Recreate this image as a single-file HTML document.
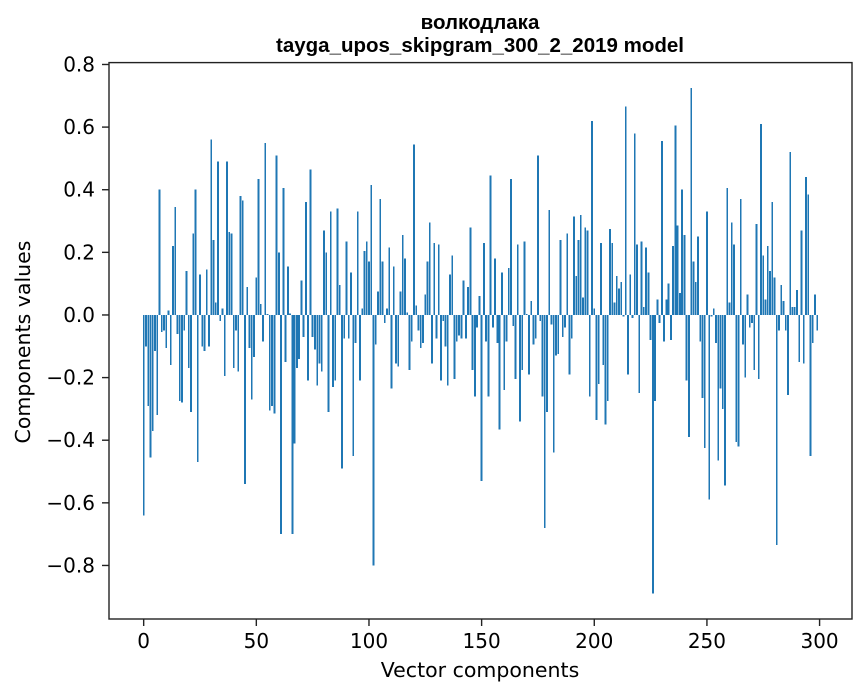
<!DOCTYPE html>
<html><head><meta charset="utf-8"><style>
html,body{margin:0;padding:0;background:#fff;}
svg{display:block;font-family:"DejaVu Sans","Liberation Sans",sans-serif;}
</style></head><body>
<svg id="chart" width="867" height="696" viewBox="0 0 867 696" xmlns="http://www.w3.org/2000/svg">
<rect width="867" height="696" fill="#fff"/>
<text x="480" y="29" text-anchor="middle" font-size="20.5" font-weight="bold" font-family="Liberation Sans, sans-serif">волкодлака</text>
<text x="480" y="52" text-anchor="middle" font-size="20.5" font-weight="bold" font-family="Liberation Sans, sans-serif">tayga_upos_skipgram_300_2_2019 model</text>
<g id="bars" shape-rendering="crispEdges"></g>
<g id="axes"></g>
<text x="480" y="677" text-anchor="middle" font-size="20.5">Vector components</text>
<text transform="translate(30,342) rotate(-90)" text-anchor="middle" font-size="20.5">Components values</text>
</svg>
<script>
const values = [
-0.64,-0.10,-0.29,-0.455,-0.37,-0.115,-0.32,0.40,-0.055,-0.05,
-0.105,0.015,-0.16,0.22,0.345,-0.06,-0.275,-0.28,-0.05,0.14,
-0.17,-0.31,0.26,0.40,-0.47,0.13,-0.10,-0.115,0.145,-0.10,
0.56,0.24,0.04,0.49,-0.02,0.02,-0.195,0.49,0.265,0.26,
-0.17,-0.05,-0.18,0.38,0.365,-0.54,0.09,-0.105,-0.27,-0.135,
0.12,0.435,0.035,-0.085,0.55,0.003,-0.305,-0.29,-0.315,0.51,
0.20,-0.70,0.405,-0.15,0.155,0.005,-0.70,-0.41,-0.17,-0.14,
0.11,-0.07,0.36,-0.21,0.465,-0.07,-0.11,-0.225,-0.155,-0.18,
0.27,0.20,-0.31,0.33,-0.23,-0.21,0.34,0.095,-0.49,-0.075,
0.235,-0.075,0.135,-0.45,-0.09,0.33,-0.21,0.02,0.205,0.235,
0.17,0.415,-0.80,-0.095,0.075,0.37,0.17,-0.025,0.02,0.215,
-0.235,0.155,-0.155,-0.165,0.075,0.255,0.18,0.008,-0.175,-0.085,
0.545,0.03,-0.05,-0.105,-0.09,0.065,0.17,0.295,-0.155,0.23,
-0.075,0.225,-0.21,-0.02,-0.10,-0.225,0.13,0.19,-0.205,-0.085,
-0.065,-0.075,0.11,-0.075,0.09,0.28,-0.175,-0.26,-0.04,0.06,
-0.53,0.23,-0.085,-0.26,0.445,-0.04,0.18,-0.09,-0.365,0.135,
-0.24,-0.085,0.15,0.435,-0.035,-0.205,0.225,-0.34,-0.175,0.235,
0.003,-0.19,0.045,-0.095,-0.075,0.51,-0.02,-0.26,-0.68,-0.31,
0.335,-0.03,-0.44,-0.13,-0.125,0.24,-0.07,-0.04,0.26,-0.19,
-0.075,0.315,0.125,0.24,0.32,0.055,0.28,0.27,-0.26,0.62,
0.02,-0.335,-0.22,0.23,-0.16,-0.35,-0.275,0.275,0.23,0.04,
0.125,0.085,0.105,-0.005,0.665,-0.19,0.13,-0.01,0.58,0.225,
-0.25,0.235,0.025,0.215,0.135,-0.08,-0.89,-0.275,0.05,-0.025,
0.555,-0.085,0.05,0.10,-0.08,0.22,0.605,0.285,0.07,0.40,
0.255,-0.21,-0.39,0.725,0.17,0.105,0.25,-0.085,-0.265,-0.425,
0.33,-0.59,-0.005,0.02,-0.09,-0.465,-0.235,-0.30,-0.545,0.405,
0.04,0.295,0.225,-0.405,-0.42,0.37,-0.095,-0.20,0.065,-0.04,
-0.025,-0.175,0.29,-0.205,0.61,0.19,0.05,0.22,0.14,0.36,
0.12,-0.735,-0.05,0.095,0.045,-0.05,-0.255,0.52,0.025,0.025,
0.08,-0.15,0.27,-0.155,0.44,0.385,-0.45,-0.09,0.065,-0.05
];
const xTicks = [0,50,100,150,200,250,300];
const yTicks = [-0.8,-0.6,-0.4,-0.2,0.0,0.2,0.4,0.6,0.8];

const NS = "http://www.w3.org/2000/svg";
const L = 109, R = 852, T = 62.6, B = 619;
const xMin = -15.39, xMax = 314.39, yMin = -0.971, yMax = 0.806;
function xs(v){ return L + (v - xMin) / (xMax - xMin) * (R - L); }
function ys(v){ return B - (v - yMin) / (yMax - yMin) * (B - T); }

const bars = document.getElementById('bars');
values.forEach((v, i) => {
  const r = document.createElementNS(NS, 'rect');
  const x0 = xs(i - 0.4), x1 = xs(i + 0.4);
  const y0 = ys(Math.max(v, 0)), y1 = ys(Math.min(v, 0));
  r.setAttribute('x', x0);
  r.setAttribute('width', x1 - x0);
  r.setAttribute('y', y0);
  r.setAttribute('height', Math.max(y1 - y0, 0.5));
  r.setAttribute('fill', '#1f77b4');
  
  
  bars.appendChild(r);
});

const axes = document.getElementById('axes');
const frame = document.createElementNS(NS, 'rect');
frame.setAttribute('x', L); frame.setAttribute('y', T);
frame.setAttribute('width', R - L); frame.setAttribute('height', B - T);
frame.setAttribute('fill', 'none'); frame.setAttribute('stroke', '#222'); frame.setAttribute('stroke-width', '1.4');


axes.appendChild(frame);

xTicks.forEach(t => {
  const x = xs(t);
  const ln = document.createElementNS(NS, 'line');
  ln.setAttribute('x1', x); ln.setAttribute('x2', x);
  ln.setAttribute('y1', B); ln.setAttribute('y2', B + 7);
  ln.setAttribute('stroke', '#222'); ln.setAttribute('stroke-width', '1.4');
  
  
  axes.appendChild(ln);
  const tx = document.createElementNS(NS, 'text');
  tx.setAttribute('x', x); tx.setAttribute('y', B + 29);
  tx.setAttribute('text-anchor', 'middle'); tx.setAttribute('font-size', '20');
  tx.textContent = String(t);
  
  
  axes.appendChild(tx);
});

yTicks.forEach(t => {
  const y = ys(t);
  const ln = document.createElementNS(NS, 'line');
  ln.setAttribute('x1', L - 7); ln.setAttribute('x2', L);
  ln.setAttribute('y1', y); ln.setAttribute('y2', y);
  ln.setAttribute('stroke', '#222'); ln.setAttribute('stroke-width', '1.4');
  
  
  axes.appendChild(ln);
  const tx = document.createElementNS(NS, 'text');
  tx.setAttribute('x', L - 14); tx.setAttribute('y', y + 7);
  tx.setAttribute('text-anchor', 'end'); tx.setAttribute('font-size', '20');
  tx.textContent = (t < 0 ? '\u2212' : '') + Math.abs(t).toFixed(1);
  
  
  axes.appendChild(tx);
});
</script>
</body></html>
